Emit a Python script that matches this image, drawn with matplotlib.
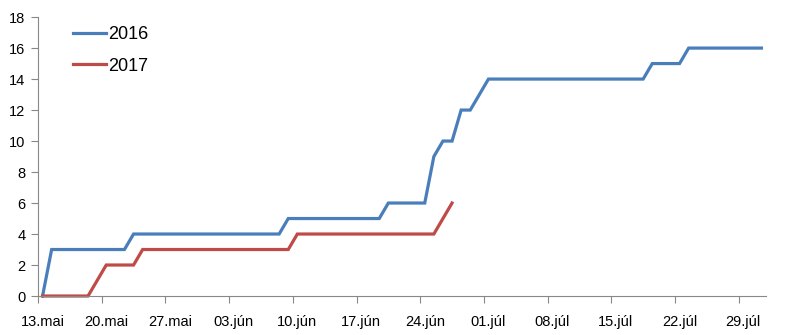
import numpy as np
import matplotlib
matplotlib.use("Agg")
import matplotlib.pyplot as plt
from matplotlib.ticker import FixedLocator, NullFormatter, FixedFormatter

# daily values from 13.mai (index 0) to 31.júl (index 79)
v2016 = [0, 3, 3, 3, 3, 3, 3, 3, 3, 3,
         4, 4, 4, 4, 4, 4, 4, 4, 4, 4,
         4, 4, 4, 4, 4, 4, 4, 5, 5, 5,
         5, 5, 5, 5, 5, 5, 5, 5, 6, 6,
         6, 6, 6, 9, 10, 10, 12, 12, 13, 14,
         14, 14, 14, 14, 14, 14, 14, 14, 14, 14,
         14, 14, 14, 14, 14, 14, 14, 15, 15, 15,
         15, 16, 16, 16, 16, 16, 16, 16, 16, 16]
v2017 = [0, 0, 0, 0, 0, 0, 1, 2, 2, 2,
         2, 3, 3, 3, 3, 3, 3, 3, 3, 3,
         3, 3, 3, 3, 3, 3, 3, 3, 4, 4,
         4, 4, 4, 4, 4, 4, 4, 4, 4, 4,
         4, 4, 4, 4, 5, 6]
tick_labels = ["13.mai", "20.mai", "27.mai", "03.jún", "10.jún", "17.jún",
               "24.jún", "01.júl", "08.júl", "15.júl", "22.júl", "29.júl"]

plt.rcParams['font.family'] = ['Liberation Sans', 'DejaVu Sans']

fig = plt.figure(figsize=(8, 3.35), dpi=100)
ax = fig.add_axes([0.0475, 0.1164, 0.91, 0.8326])

ax.plot(np.arange(len(v2016)), v2016, color='#4A7EBB', lw=2.3, label='2016',
        clip_on=False, solid_joinstyle='miter')
ax.plot(np.arange(len(v2017)), v2017, color='#BE4B48', lw=2.3, label='2017',
        clip_on=False, solid_joinstyle='miter')

ax.set_xlim(-0.5, len(v2016) - 0.5)
ax.set_ylim(0, 18)
ax.set_yticks(range(0, 19, 2))

pos = np.arange(0, len(v2016), 7)
ax.xaxis.set_major_locator(FixedLocator(pos - 0.5))
ax.xaxis.set_major_formatter(NullFormatter())
ax.xaxis.set_minor_locator(FixedLocator(pos))
ax.xaxis.set_minor_formatter(FixedFormatter(tick_labels))
ax.tick_params(axis='x', which='minor', length=0, labelsize=10.5, pad=14)
ax.tick_params(axis='x', which='major', length=5, color='#888888', direction='out')
ax.tick_params(axis='y', length=5, color='#888888', labelsize=10.5, pad=4)

for s in ['top', 'right']:
    ax.spines[s].set_visible(False)
for s in ['left', 'bottom']:
    ax.spines[s].set_color('#888888')

ax.legend(loc='upper left', bbox_to_anchor=(0.026, 1.025), frameon=False,
          fontsize=13, handlelength=1.8, handletextpad=0.15, labelspacing=0.8)

fig.savefig("out.png", dpi=100)
